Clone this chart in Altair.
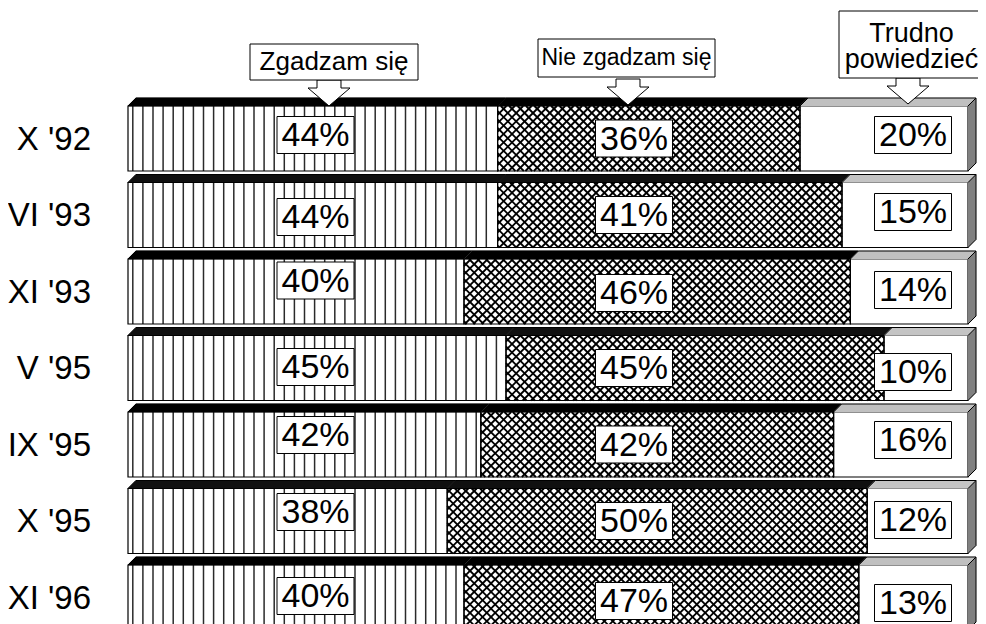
import math
import altair as alt
import pandas as pd

# ---------------- data ----------------
rows = ["X '92", "VI '93", "XI '93", "V '95", "IX '95", "X '95", "XI '96"]
zgadzam = [44, 44, 40, 45, 42, 38, 40]
nie_zgadzam = [36, 41, 46, 45, 42, 50, 47]
trudno = [20, 15, 14, 10, 16, 12, 13]
categories = ["Zgadzam się", "Nie zgadzam się", "Trudno powiedzieć"]

# ---------------- layout / style (plot-area pixels; page = plot + 8) ----------------
W, H = 970, 616
X_PX = (120.0, 960.0)            # pixel span of 0 % .. 100 %
ROW_TOP0, ROW_PITCH, FACE_H = 98.0, 76.5, 65.0
DEPTH = 8
KX = (X_PX[1] - X_PX[0]) / 100.0
FONT = "Liberation Sans"
N = len(rows)


def ux(px):
    return (px - X_PX[0]) / KX


def uy(py):
    return (py - ROW_TOP0) / ROW_PITCH


def px_x(v):
    return X_PX[0] + KX * v


def px_y(v):
    return ROW_TOP0 + ROW_PITCH * v


FH = FACE_H / ROW_PITCH

XS = alt.Scale(domain=[0, 100], range=list(X_PX), nice=False, zero=False)
YS = alt.Scale(domain=[0, N], range=[ROW_TOP0, ROW_TOP0 + ROW_PITCH * N], nice=False, zero=False)


def X(f):
    return alt.X(f"{f}:Q", scale=XS, axis=None)


def Y(f):
    return alt.Y(f"{f}:Q", scale=YS, axis=None, stack=None)


# ---------------- segments ----------------
seg_rows = []
for i, vals in enumerate(zip(zgadzam, nie_zgadzam, trudno)):
    start = 0
    for k, v in enumerate(vals):
        seg_rows.append(dict(row=i, k=k, x0=start, x1=start + v, y0=i, y1=i + FH))
        start += v
seg = pd.DataFrame(seg_rows)

# 3-D faces drawn as pixel scan lines + outlines (computed in pixels, mapped back to data units)
TOP_FILL = ["#000000", "#000000", "#c0c0c0"]
SIDE_FILL = "#808080"
fill_lines, edge_lines = [], []


def add(lst, x1, y1, x2, y2, c="black"):
    lst.append(dict(x=ux(x1), y=uy(y1), x2=ux(x2), y2=uy(y2), c=c))


for r in seg_rows:
    a, b, t = px_x(r["x0"]), px_x(r["x1"]), px_y(r["y0"])
    for j in range(DEPTH):
        o = j + 0.5
        add(fill_lines, a + o, t - o, b + o, t - o, TOP_FILL[r["k"]])
    if r["k"] == 0:
        add(edge_lines, a, t, a + DEPTH, t - DEPTH)
    add(edge_lines, a + DEPTH, t - DEPTH, b + DEPTH, t - DEPTH)
    if r["k"] == 2:
        bot = t + FACE_H
        for j in range(DEPTH):
            o = j + 0.5
            add(fill_lines, b + o, t - o, b + o, bot - o, SIDE_FILL)
        add(edge_lines, b, t, b + DEPTH, t - DEPTH)
        add(edge_lines, b + DEPTH, t - DEPTH, b + DEPTH, bot - DEPTH)
        add(edge_lines, b + DEPTH, bot - DEPTH, b, bot)
    elif r["k"] == 1:
        add(edge_lines, b, t, b + DEPTH, t - DEPTH)
fill_df = pd.DataFrame(fill_lines)
edge_df = pd.DataFrame(edge_lines)

# vertical hatch for "Zgadzam się"
VSTEP = 10.1 / KX
VPHASE = 4.8 / KX
vl = []
for r in seg_rows:
    if r["k"] != 0:
        continue
    x = VPHASE
    while x < r["x1"] - 0.4:
        vl.append(dict(x=x, y=r["y0"], y2=r["y1"]))
        x += VSTEP
vl_df = pd.DataFrame(vl)

# cross hatch for "Nie zgadzam się"
S = 8.4
dl = []
for r in seg_rows:
    if r["k"] != 1:
        continue
    xa, xb = px_x(r["x0"]), px_x(r["x1"])
    ya = px_y(r["row"])
    yb = ya + FACE_H
    c = math.ceil((xa + ya) / S) * S
    while c < xb + yb:
        y1, y2 = max(ya, c - xb), min(yb, c - xa)
        if y2 > y1:
            dl.append(dict(x=ux(c - y1), y=uy(y1), x2=ux(c - y2), y2=uy(y2)))
        c += S
    c = math.ceil((xa - yb) / S) * S
    while c < xb - ya:
        y1, y2 = max(ya, xa - c), min(yb, xb - c)
        if y2 > y1:
            dl.append(dict(x=ux(c + y1), y=uy(y1), x2=ux(c + y2), y2=uy(y2)))
        c += S
dl_df = pd.DataFrame(dl)

# value labels
LABEL_X_PX = [307.5, 626.0, 905.0]
LABEL_DY = [[-3.5, 0, -3.5], [2, 0, -3], [-11, 1.5, -1.5], [-1, 0, 4],
            [-9.5, 0, -4.5], [-9, 0, -1], [-1.5, 3.5, 5.5]]
lab = []
for i, vals in enumerate(zip(zgadzam, nie_zgadzam, trudno)):
    for k, v in enumerate(vals):
        lab.append(dict(text=f"{v}%", lx=ux(LABEL_X_PX[k]),
                        ly=i + FH / 2 + LABEL_DY[i][k] / ROW_PITCH))
lab_df = pd.DataFrame(lab)

row_df = pd.DataFrame(dict(label=rows, y=[i + FH / 2 for i in range(N)]))

# ---------------- layers ----------------
faces = alt.Chart(seg).mark_rect(fill="white", stroke=None).encode(
    x=X("x0"), x2="x1", y=Y("y0"), y2="y1")

vlines = alt.Chart(vl_df).mark_rule(color="#2a2a2a", strokeWidth=1.5).encode(
    x=X("x"), y=Y("y"), y2="y2")

dlines = alt.Chart(dl_df).mark_rule(color="#000000", strokeWidth=1.8).encode(
    x=X("x"), x2="x2", y=Y("y"), y2="y2")

outline = alt.Chart(seg).mark_rect(fill=None, fillOpacity=0, stroke="black", strokeWidth=1.2).encode(
    x=X("x0"), x2="x1", y=Y("y0"), y2="y1")

shade = alt.Chart(fill_df).mark_rule(strokeWidth=1.3, strokeCap="butt").encode(
    x=X("x"), x2="x2", y=Y("y"), y2="y2", color=alt.Color("c:N", scale=None))

edges = alt.Chart(edge_df).mark_rule(strokeWidth=1, color="black").encode(
    x=X("x"), x2="x2", y=Y("y"), y2="y2")

boxes = alt.Chart(lab_df).mark_rect(fill="white", stroke="black", strokeWidth=1,
                                    xOffset=-38.5, x2Offset=38.5, yOffset=-18.5, y2Offset=18.5).encode(
    x=X("lx"), x2="lx", y=Y("ly"), y2="ly")

texts = alt.Chart(lab_df).mark_text(font=FONT, fontSize=34, align="center", baseline="middle",
                                    dy=1, color="black").encode(
    x=X("lx"), y=Y("ly"), text="text:N")

row_labels = alt.Chart(row_df).mark_text(font=FONT, fontSize=33, align="right", baseline="middle",
                                         dy=1, color="black").encode(
    x=alt.value(83), y=Y("y"), text="label:N")

# legend call-outs
ARROW = ("M-0.571,-0.619 L0.571,-0.619 L0.571,-0.238 L1,-0.238 L0,0.619 "
         "L-1,-0.238 L-0.571,-0.238 Z")
legend_items = [
    dict(text=categories[0], bx0=242, bx1=410, by0=36, by1=72, tx=326, ty=54, fs=26, ax=321, ay=85),
    dict(text=categories[1], bx0=530, bx1=707, by0=31, by1=69, tx=618.5, ty=50, fs=23, ax=620, ay=84),
    dict(text=None, bx0=831, bx1=978, by0=3, by1=70, tx=903.5, ty=34, fs=27, ax=900, ay=83),
]
leg_df = pd.DataFrame([dict(bx0=ux(d["bx0"]), bx1=ux(d["bx1"]), by0=uy(d["by0"]), by1=uy(d["by1"]),
                            ax=ux(d["ax"]), ay=uy(d["ay"])) for d in legend_items])

leg_boxes = alt.Chart(leg_df).mark_rect(fill="white", stroke="black", strokeWidth=1).encode(
    x=X("bx0"), x2="bx1", y=Y("by0"), y2="by1")
leg_arrows = alt.Chart(leg_df).mark_point(shape=ARROW, size=1764, filled=True, fill="white",
                                          stroke="black", strokeWidth=1, opacity=1).encode(
    x=X("ax"), y=Y("ay"))

leg_texts = []
for d in legend_items[:2]:
    df = pd.DataFrame([dict(t=d["text"], x=ux(d["tx"]), y=uy(d["ty"]))])
    leg_texts.append(alt.Chart(df).mark_text(font=FONT, fontSize=d["fs"], align="center",
                                             baseline="middle", color="black").encode(
        x=X("x"), y=Y("y"), text="t:N"))
d = legend_items[2]
words = categories[2].split(" ")
df3 = pd.DataFrame([dict(x=ux(d["tx"]), y=uy(d["ty"]))])
leg_texts.append(alt.Chart(df3).mark_text(font=FONT, fontSize=d["fs"], align="center",
                                          baseline="alphabetic", lineHeight=26, color="black",
                                          text=words).encode(
    x=X("x"), y=Y("y")))

chart = alt.layer(
    faces, vlines, dlines, outline, shade, edges, boxes, texts, row_labels,
    leg_arrows, leg_boxes, *leg_texts
).properties(
    width=W, height=H, autosize=alt.AutoSizeParams(type="none"), padding=0, background="white"
).configure_view(stroke=None)

chart.save("out.html", embed_options={"renderer": "svg", "actions": False})
